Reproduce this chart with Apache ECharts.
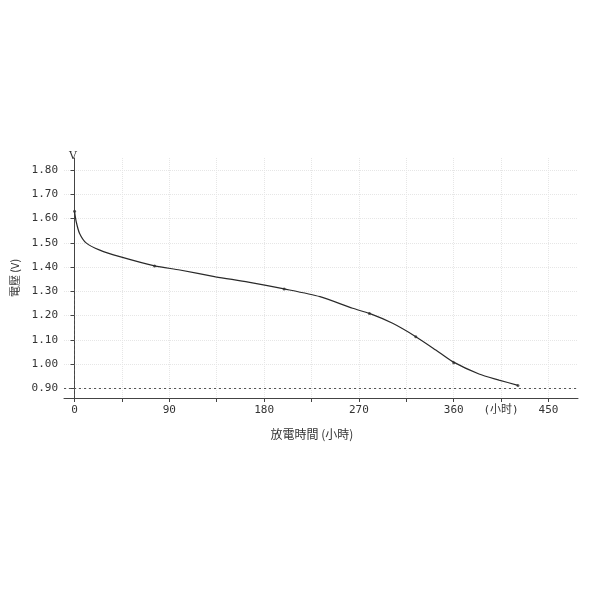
<!DOCTYPE html>
<html>
<head>
<meta charset="utf-8">
<script src="https://cdn.jsdelivr.net/npm/echarts@6/dist/echarts.min.js"></script>
<style>
  html, body { margin: 0; padding: 0; background: #fff; }
  #chart { width: 600px; height: 600px; }
</style>
</head>
<body>
<div id="chart"></div>
<script>
// discharge curve (hours, volts)
const hours = [0, 1.6, 4.7, 11, 24, 43, 76, 100, 134, 165, 199, 233, 264, 280, 302, 324, 343, 359, 384, 403, 421]
const volts = [1.63, 1.587, 1.54, 1.50, 1.47, 1.443, 1.405, 1.388, 1.36, 1.338, 1.31, 1.278, 1.23, 1.209, 1.168, 1.113, 1.058, 1.01, 0.959, 0.934, 0.912]
// small dots on the curve
const markHours = [0, 76, 199, 280, 324, 360, 421]
const markVolts = [1.63, 1.405, 1.31, 1.209, 1.113, 1.005, 0.912]

const xTicks = [0, 45, 90, 135, 180, 225, 270, 315, 360, 405, 450]
const xLabels = { 0: "0", 90: "90", 180: "180", 270: "270", 360: "360", 405: "(小时)", 450: "450" }
const yTicks = [0.9, 1.0, 1.1, 1.2, 1.3, 1.4, 1.5, 1.6, 1.7, 1.8]

const cutoff = 0.9

const chartDom = document.getElementById("chart")
const myChart = echarts.init(chartDom)

const labelFont = {
  color: "#333",
  fontFamily: "DejaVu Sans Mono",
  fontSize: 11,
}

let option = {
  animation: false,
  grid: {
    left: 64,
    right: 22,
    top: 158,
    bottom: 202,
  },
  graphic: [
    {
      type: "text",
      left: 69,
      top: 151,
      style: { text: "V", fill: "#333", font: "11px 'DejaVu Serif'" },
    },
  ],
  xAxis: {
    type: "value",
    min: -10,
    max: 478,
    name: "放電時間 (小時)",
    nameLocation: "middle",
    nameGap: 30,
    nameTextStyle: {
      color: "#333",
      fontFamily: "Noto Sans CJK TC",
      fontSize: 12,
      padding: [0, 18, 0, 0],
    },
    axisLine: { show: true, lineStyle: { color: "#444", width: 1 } },
    axisTick: {
      show: true,
      length: 4,
      customValues: xTicks,
      lineStyle: { color: "#444" },
    },
    axisLabel: {
      ...labelFont,
      margin: 7,
      customValues: Object.keys(xLabels).map(Number),
      formatter: (v) => xLabels[v] || "",
      fontFamily: "DejaVu Sans Mono, Noto Sans CJK SC",
    },
    splitLine: {
      show: true,
      lineStyle: { color: "#e6e6e6", type: "dotted" },
    },
  },
  yAxis: {
    type: "value",
    min: 0.86,
    max: 1.85,
    name: "電壓 (V)",
    nameLocation: "middle",
    nameGap: 42,
    nameRotate: 90,
    nameTextStyle: {
      color: "#333",
      fontFamily: "Noto Sans CJK TC",
      fontSize: 11,
    },
    axisLine: { show: true, lineStyle: { color: "#444", width: 1 } },
    axisTick: {
      show: true,
      length: 4,
      customValues: yTicks,
      lineStyle: { color: "#444" },
    },
    axisLabel: {
      ...labelFont,
      margin: 6,
      customValues: yTicks,
      formatter: (v) => v.toFixed(2),
    },
    splitLine: {
      show: true,
      lineStyle: { color: "#e6e6e6", type: "dotted" },
    },
  },
  series: [
    {
      type: "line",
      data: hours.map((h, i) => [h, volts[i]]),
      smooth: 0.25,
      showSymbol: false,
      lineStyle: { color: "#2a2a2a", width: 1.2 },
      markLine: {
        silent: true,
        symbol: "none",
        label: { show: false },
        lineStyle: { color: "#555", type: [2, 3], width: 1 },
        data: [
          [
            { coord: [-10, cutoff] },
            { coord: [478, cutoff] },
          ],
          [
            { coord: [0, 1.31] },
            { coord: [0, 0.86] },
          ],
        ],
      },
    },
    {
      type: "scatter",
      data: markHours.map((h, i) => [h, markVolts[i]]),
      symbolSize: 3,
      itemStyle: { color: "#333" },
    },
  ],
}

myChart.setOption(option)
</script>
</body>
</html>
